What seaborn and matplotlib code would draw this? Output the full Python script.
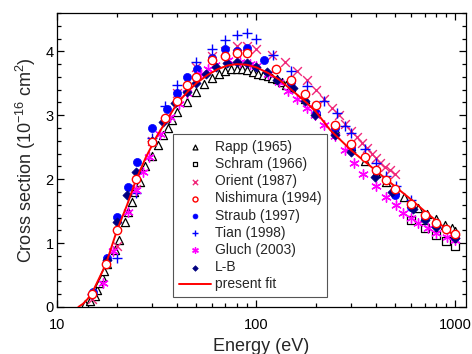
import numpy as np
import pandas as pd
import matplotlib
matplotlib.use("Agg")
import matplotlib.pyplot as plt
import seaborn as sns

# energies (eV) and cross sections (1e-16 cm^2)
rapp_e = [13.8, 14.6, 15.5, 15.9, 16.3, 16.8, 17.2, 17.8, 19.5, 20.5, 22.0, 22.8, 23.8, 24.4, 26.0,
          27.6, 30.0, 32.2, 34.1, 36.1, 37.8, 40, 45, 50, 55, 60, 65, 70, 75, 80, 85, 90, 96, 102,
          108, 114, 120, 127, 134, 141, 150, 175, 200, 250, 300, 350, 400, 450, 500, 550, 600, 650,
          720, 800, 890, 960, 1000]
rapp_s = [0.05, 0.10, 0.17, 0.27, 0.37, 0.47, 0.57, 0.68, 0.89, 1.05, 1.33, 1.48, 1.64, 1.80, 1.95,
          2.20, 2.37, 2.53, 2.69, 2.80, 2.92, 3.05, 3.21, 3.36, 3.49, 3.59, 3.65, 3.70, 3.72, 3.73,
          3.73, 3.71, 3.68, 3.65, 3.63, 3.61, 3.59, 3.56, 3.52, 3.48, 3.44, 3.25, 3.07, 2.78, 2.52,
          2.28, 2.10, 1.95, 1.83, 1.72, 1.63, 1.55, 1.46, 1.37, 1.28, 1.23, 1.19]

schram_e = [600, 700, 800, 900, 1000]
schram_s = [1.36, 1.24, 1.13, 1.04, 0.95]

orient_e = [15, 20, 25, 30, 40, 50, 60, 70, 80, 90, 100, 120, 140, 160, 180, 200, 220, 240, 260,
            280, 300, 320, 340, 360, 380, 400, 420, 445, 470, 500]
orient_s = [0.12, 0.95, 1.85, 2.60, 3.35, 3.75, 3.92, 4.00, 4.09, 4.09, 4.03, 3.94, 3.83, 3.69,
            3.55, 3.40, 3.26, 3.12, 3.00, 2.87, 2.76, 2.66, 2.56, 2.49, 2.40, 2.33, 2.25, 2.19,
            2.14, 2.08]

nish_e = [15, 17.6, 20, 25, 30, 35, 40, 45, 50, 60, 70, 80, 90, 125, 150, 175, 200, 250, 300, 350,
          400, 450, 500, 600, 700, 800, 900, 1000]
nish_s = [0.20, 0.67, 1.20, 2.00, 2.58, 2.96, 3.22, 3.48, 3.60, 3.86, 3.92, 3.97, 3.97, 3.73, 3.55,
          3.33, 3.16, 2.84, 2.55, 2.35, 2.15, 1.98, 1.84, 1.61, 1.44, 1.32, 1.22, 1.14]

straub_e = [15.2, 17.8, 20, 22.7, 25.2, 30, 35.5, 40, 45, 50.5, 60, 70, 80, 90, 110, 150, 200, 250,
            300, 400, 500, 600, 700, 800, 1000]
straub_s = [0.23, 0.77, 1.41, 1.88, 2.27, 2.80, 3.10, 3.35, 3.60, 3.72, 3.89, 4.03, 4.00, 4.06,
            3.87, 3.52, 3.03, 2.80, 2.48, 2.14, 1.75, 1.56, 1.39, 1.28, 1.10]

tian_e = [15, 20, 25, 30, 35, 40, 50, 60, 70, 80, 90, 100, 122, 150, 180, 220, 254, 280, 300, 350,
          400, 450, 505, 600]
tian_s = [0.20, 0.77, 1.78, 2.65, 3.15, 3.47, 3.83, 4.03, 4.17, 4.25, 4.28, 4.19, 3.94, 3.70, 3.46,
          3.23, 3.03, 2.83, 2.72, 2.47, 2.25, 2.05, 1.90, 1.68]

gluch_e = [17, 19, 22.7, 25, 27, 29, 33, 37, 41, 45, 53, 57, 62, 72, 83, 93, 100, 115, 130, 145,
           160, 180, 197, 220, 250, 280, 310, 345, 400, 447, 505, 547, 600, 650, 725, 803, 907, 1000]
gluch_s = [0.38, 0.87, 1.48, 1.83, 2.12, 2.35, 2.70, 2.98, 3.18, 3.35, 3.64, 3.73, 3.78, 3.86, 3.83,
           3.80, 3.77, 3.65, 3.52, 3.38, 3.26, 3.12, 3.00, 2.84, 2.67, 2.45, 2.26, 2.08, 1.89, 1.72,
           1.59, 1.47, 1.39, 1.31, 1.23, 1.16, 1.10, 1.05]

lb_e = [17.8, 20, 22.5, 25, 30, 34, 39, 45, 50, 56, 63, 71, 80, 90, 100, 113, 127, 153, 176, 198,
        250, 300, 395, 480, 610, 700, 800, 1000]
lb_s = [0.73, 1.33, 1.75, 2.11, 2.60, 2.89, 3.19, 3.36, 3.50, 3.64, 3.75, 3.81, 3.83, 3.81, 3.76,
        3.67, 3.55, 3.42, 3.23, 3.00, 2.69, 2.42, 2.03, 1.80, 1.54, 1.36, 1.25, 1.08]

fit_e = [12.8, 13.5, 14.2, 15, 17.6, 20, 22.5, 25, 28, 31.8, 36, 40, 45, 50, 57, 64, 72, 80, 90,
         100, 115, 130, 150, 180, 200, 235, 300, 400, 500, 600, 700, 800, 1000]
fit_s = [0.0, 0.05, 0.12, 0.22, 0.67, 1.20, 1.60, 2.00, 2.35, 2.68, 2.95, 3.18, 3.36, 3.50, 3.63,
         3.72, 3.78, 3.80, 3.79, 3.75, 3.66, 3.56, 3.40, 3.19, 3.05, 2.77, 2.45, 2.13, 1.88, 1.68,
         1.50, 1.35, 1.10]

sns.set_theme(style="ticks")
plt.rcParams['font.family'] = ['Liberation Sans', 'DejaVu Sans']
plt.rcParams['mathtext.fontset'] = 'custom'
plt.rcParams['mathtext.rm'] = 'Liberation Sans'

fig, ax = plt.subplots(figsize=(4.72, 3.54), dpi=100)
fig.subplots_adjust(left=57/472, right=466/472, top=1-13/354, bottom=1-307/354)

S = 34
sns.scatterplot(x=rapp_e, y=rapp_s, marker='^', s=S, facecolor='white', edgecolor='black',
                linewidth=0.9, label='Rapp (1965)', ax=ax, zorder=2)
sns.scatterplot(x=schram_e, y=schram_s, marker='s', s=28, facecolor='white', edgecolor='black',
                linewidth=0.9, label='Schram (1966)', ax=ax, zorder=2)
sns.scatterplot(x=orient_e, y=orient_s, marker='x', s=40, color='#F0287A', linewidth=1.0,
                label='Orient (1987)', ax=ax, zorder=2)
sns.scatterplot(x=straub_e, y=straub_s, marker='o', s=34, color='#0000FF', edgecolor='#0000FF',
                linewidth=0.5, label='Straub (1997)', ax=ax, zorder=2)
sns.scatterplot(x=tian_e, y=tian_s, marker='+', s=46, color='#0000FF', linewidth=1.0,
                label='Tian (1998)', ax=ax, zorder=2)
sns.scatterplot(x=gluch_e, y=gluch_s, marker=(6, 2, 0), s=46, color='#FF00FF', linewidth=1.0,
                label='Gluch (2003)', ax=ax, zorder=2)
sns.scatterplot(x=lb_e, y=lb_s, marker='D', s=22, color='#000080', edgecolor='#000080',
                linewidth=0.5, label='L-B', ax=ax, zorder=2)
sns.lineplot(x=fit_e, y=fit_s, color='red', linewidth=1.4, sort=False, estimator=None,
             label='present fit', ax=ax, zorder=3)
sns.scatterplot(x=nish_e, y=nish_s, marker='o', s=36, facecolor='white', edgecolor='red',
                linewidth=1.0, label='Nishimura (1994)', ax=ax, zorder=4)

ax.set_xscale('log')
ax.set_xlim(10, 1130)
ax.set_ylim(0, 4.6)
ax.set_xticks([10, 100, 1000])
ax.set_xticklabels(['10', '100', '1000'])
ax.set_yticks([0, 1, 2, 3, 4])
ax.yaxis.set_minor_locator(matplotlib.ticker.MultipleLocator(0.2))
ax.tick_params(which='both', direction='in', top=True, right=True, labelsize=10.5,
               width=0.9, colors='black')
ax.tick_params(which='major', length=5)
ax.tick_params(which='minor', length=3)
ax.tick_params(axis='x', which='major', pad=8)
ax.tick_params(axis='y', which='major', pad=2.5)
for sp in ax.spines.values():
    sp.set_linewidth(0.9)
    sp.set_color('black')

ax.set_xlabel('Energy (eV)', fontsize=13, labelpad=4)
ax.set_ylabel('Cross section (10$^{-16}$ cm$^{2}$)', fontsize=13, labelpad=5)

handles, labels = ax.get_legend_handles_labels()
order = ['Rapp (1965)', 'Schram (1966)', 'Orient (1987)', 'Nishimura (1994)', 'Straub (1997)',
         'Tian (1998)', 'Gluch (2003)', 'L-B', 'present fit']
hmap = dict(zip(labels, handles))
leg = ax.legend([hmap[l] for l in order], order, loc='lower left',
                bbox_to_anchor=(0.284, 0.034), borderaxespad=0, fontsize=10,
                markerscale=0.6, handlelength=2.3, handletextpad=0.3, labelspacing=0.23,
                borderpad=0.4, fancybox=False, framealpha=1, edgecolor='#555555')
leg.get_frame().set_linewidth(0.8)

fig.savefig('out.png', dpi=100)
